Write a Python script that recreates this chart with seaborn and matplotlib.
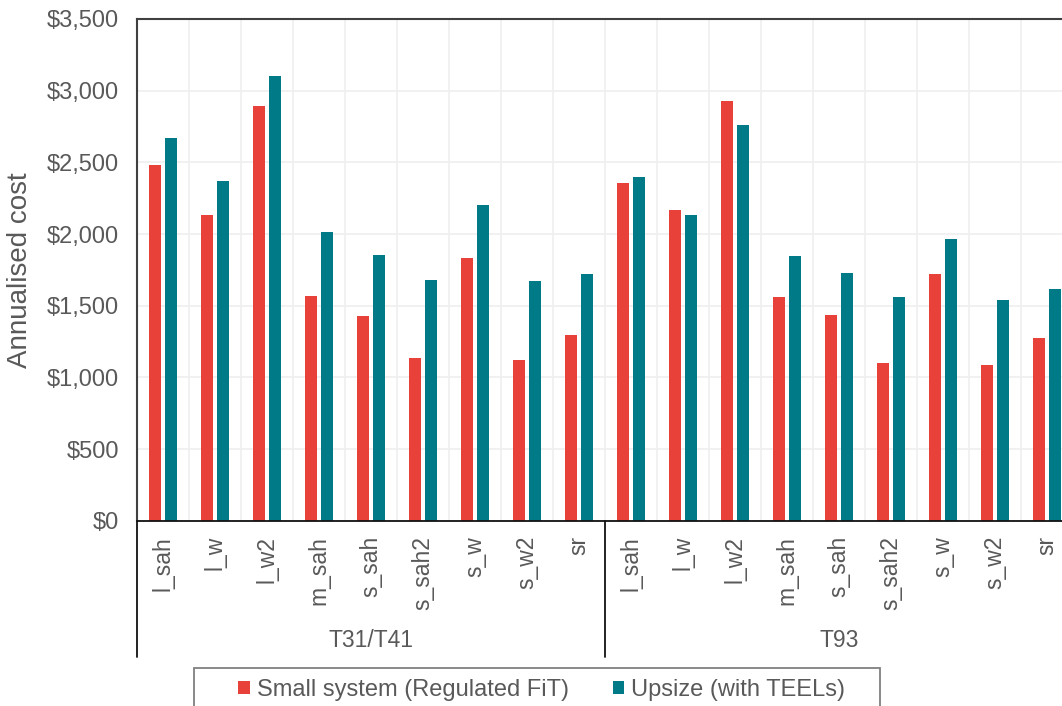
import numpy as np
import pandas as pd
import matplotlib
matplotlib.use("Agg")
import matplotlib.pyplot as plt
import matplotlib.transforms as mtransforms
from matplotlib.patches import Rectangle
from matplotlib.ticker import StrMethodFormatter
import seaborn as sns

# ---- data -------------------------------------------------------------
tariffs = ["T31/T41", "T93"]
scenarios = ["l_sah", "l_w", "l_w2", "m_sah", "s_sah", "s_sah2", "s_w", "s_w2", "sr"]
series_names = ["Small system (Regulated FiT)", "Upsize (with TEELs)"]

small_t31 = [2480, 2130, 2890, 1565, 1425, 1135, 1830, 1120, 1295]
upsize_t31 = [2670, 2370, 3100, 2015, 1855, 1680, 2200, 1670, 1720]
small_t93 = [2355, 2165, 2930, 1560, 1435, 1100, 1720, 1085, 1275]
upsize_t93 = [2395, 2130, 2760, 1845, 1730, 1560, 1965, 1540, 1615]

y_ticks = [0, 500, 1000, 1500, 2000, 2500, 3000, 3500]

# ---- style ------------------------------------------------------------
sns.set_theme(style="white")
plt.rcParams["font.family"] = ["Liberation Sans", "DejaVu Sans"]
TEXT = "#595959"
RED = "#e8413a"
TEAL = "#007a86"

# ---- long-form table --------------------------------------------------
values = {
    ("T31/T41", series_names[0]): small_t31,
    ("T31/T41", series_names[1]): upsize_t31,
    ("T93", series_names[0]): small_t93,
    ("T93", series_names[1]): upsize_t93,
}
rows = []
for (tariff, series), vals in values.items():
    for scen, v in zip(scenarios, vals):
        rows.append({"slot": f"{tariff}|{scen}", "tariff": tariff,
                     "scenario": scen, "series": series, "cost": v})
df = pd.DataFrame(rows)
slots = [f"{t}|{s}" for t in tariffs for s in scenarios]

# ---- figure -----------------------------------------------------------
W, H = 1062, 706
fig = plt.figure(figsize=(W / 100, H / 100), dpi=100)
ax = fig.add_axes([137 / W, 185.3 / H, 936 / W, 501.7 / H])

sns.barplot(data=df, x="slot", y="cost", hue="series", order=slots,
            hue_order=series_names, palette=[RED, TEAL], saturation=1,
            width=0.6, gap=0.26, errorbar=None, linewidth=0, ax=ax)

handles, labels = ax.get_legend_handles_labels()
if ax.get_legend() is not None:
    ax.get_legend().remove()

n = len(slots)
ax.set_xlim(-0.5, n - 0.5)
ax.set_ylim(y_ticks[0], y_ticks[-1])
ax.set_yticks(y_ticks)
ax.yaxis.set_major_formatter(StrMethodFormatter("${x:,.0f}"))

ax.set_xticks(range(n))
ax.set_xticklabels([s.split("|")[1] for s in slots], rotation=90)
ax.set_xticks(np.arange(-0.5, n, 1), minor=True)

ax.tick_params(axis="x", which="both", length=0, pad=11, labelsize=16.5, labelcolor=TEXT)
ax.tick_params(axis="y", length=0, pad=13, labelsize=17, labelcolor=TEXT)

ax.grid(False)
ax.grid(True, axis="y", which="major", color="#efefef", lw=1.2)
ax.grid(True, axis="x", which="minor", color="#efefef", lw=1.2)
ax.set_axisbelow(True)

ax.set_xlabel("")
ax.set_ylabel("Annualised cost", fontsize=20, color=TEXT)
ax.yaxis.set_label_coords(-0.111, 0.5)

for side in ["top", "left"]:
    ax.spines[side].set_color("#404040")
    ax.spines[side].set_linewidth(1.5)
ax.spines["bottom"].set_color("#111111")
ax.spines["bottom"].set_linewidth(1.3)
ax.spines["right"].set_visible(False)

# group separators and tariff labels under the category axis
trans = mtransforms.blended_transform_factory(ax.transData, ax.transAxes)
group_len = len(scenarios)
for k in range(len(tariffs) + 1):
    xb = k * group_len - 0.5
    ax.plot([xb, xb], [0, -0.272], color="#111111", lw=1.3,
            transform=trans, clip_on=False)
for k, t in enumerate(tariffs):
    xc = k * group_len + (group_len - 1) / 2
    ax.text(xc, -0.238, t, transform=trans, ha="center", va="center",
            fontsize=16.5, color=TEXT)

# legend with its frame below the plot
frame_top = (H - 668) / H
fig.add_artist(Rectangle((194 / W, -0.05), 686 / W, frame_top + 0.05,
                         transform=fig.transFigure, fill=False,
                         edgecolor="#808080", lw=1.3))
fig.legend(handles, labels, loc="center left",
           bbox_to_anchor=(238 / W, (H - 690) / H), ncol=2, frameon=False,
           fontsize=17, handlelength=0.5, handleheight=0.5,
           handletextpad=0.3, columnspacing=1.85, borderpad=0,
           borderaxespad=0, labelcolor=TEXT)

fig.savefig("out.png", dpi=100)
